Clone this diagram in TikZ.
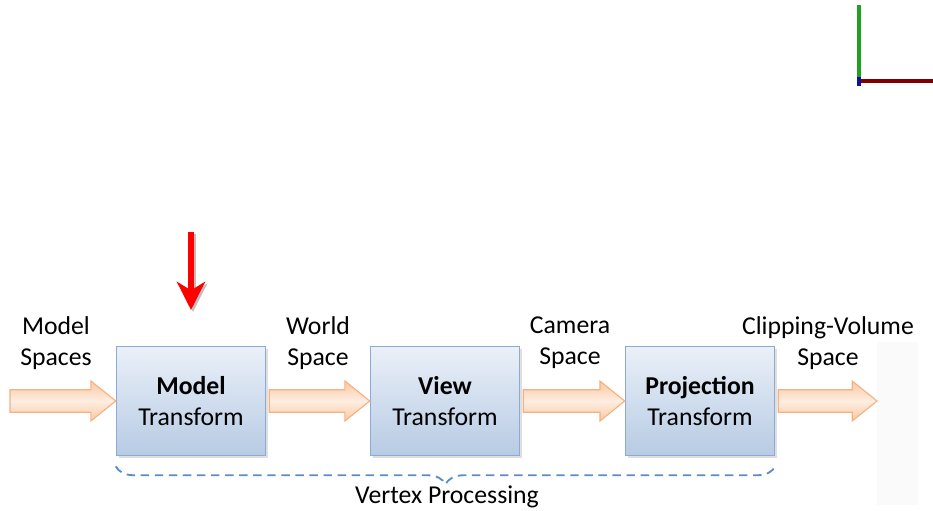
\documentclass[tikz,border=0pt]{standalone}
\usepackage{fontspec}
\setmainfont{Carlito}
\usetikzlibrary{calc,shadows,arrows.meta,decorations.pathreplacing}

% colours of the pipeline
\definecolor{boxTop}{HTML}{EAF0F8}
\definecolor{boxBottom}{HTML}{B7CBE4}
\definecolor{boxLine}{HTML}{8DAAD2}
\definecolor{flowMid}{HTML}{FEEEE2}
\definecolor{flowEdge}{HTML}{FAC8A0}
\definecolor{flowLine}{HTML}{F4B183}
\definecolor{braceLine}{HTML}{5B8CC8}
\definecolor{axisX}{HTML}{7F0000}
\definecolor{axisY}{HTML}{1FA01F}
\definecolor{axisZ}{HTML}{1010A0}

\tikzset{
  stage/.style={draw=boxLine, line width=1.2pt, top color=boxTop, bottom color=boxBottom,
    minimum width=3.72cm, minimum height=2.72cm, align=center,
    drop shadow={opacity=0.25, shadow xshift=1.5pt, shadow yshift=-1.5pt}},
  space/.style={align=center},
  flowline/.style={draw=flowLine, line width=0.8pt, line join=miter,
    top color=flowEdge, bottom color=flowEdge, middle color=flowMid},
}

% block arrow from one point to another (horizontal)
\def\shaftw{0.28cm}
\def\headw{0.5cm}
\def\headl{0.62cm}
\newcommand\flow[2]{%
  \path[flowline] let \p1=(#1), \p2=(#2) in
    (\x1,\y1+\shaftw) -- (\x2-\headl,\y1+\shaftw) -- (\x2-\headl,\y1+\headw) -- (\x2,\y1)
    -- (\x2-\headl,\y1-\headw) -- (\x2-\headl,\y1-\shaftw) -- (\x1,\y1-\shaftw) -- cycle;}

\begin{document}
\begin{tikzpicture}[x=0.025cm, y=-0.025cm, font=\fontsize{18.3}{22}\selectfont]
	\useasboundingbox (0,0) rectangle (933,511);
	
	% faint panel on the right
	\fill[black!2] (877,342) rectangle (918,505);
	
	% transform stages
	\node[stage] (model) at (191,401) {\textbf{Model}\\Transform};
	\node[stage] (view) at (445,401) {\textbf{View}\\Transform};
	\node[stage] (proj) at (700,401) {\textbf{Projection}\\Transform};
	
	\coordinate (in) at (10,401);
	\coordinate (out) at (877,401);
	
	% flow between the stages
	\flow{in}{model.west}
	\flow{$(model.east)+(3,0)$}{view.west}
	\flow{$(view.east)+(3,0)$}{proj.west}
	\flow{$(proj.east)+(3,0)$}{out}
	
	% space names
	\node[space] (sModel) at (56,343) {Model\\Spaces};
	\node[space] (sWorld) at (318,343) {World\\Space};
	\node[space] (sCamera) at (570,343) {Camera\\Space};
	\node[space] (sClip) at (828,343) {Clipping-Volume\\Space};
	
	% vertex processing brace
	\draw[braceLine, line width=1.3pt, dash pattern=on 6pt off 4pt,
		decorate, decoration={brace, mirror, amplitude=0.45cm}]
		($(model.south west)+(0,10)$) -- ($(proj.south east)+(0,10)$) coordinate[midway] (bmid);
	\node (vertex) at (447,497) {Vertex Processing};
	
	% red marker over the model stage
	\coordinate (mTop) at (191,232);
	\coordinate (mTip) at (191,310);
	\draw[black!25, line width=4pt, -{Stealth[length=20pt, width=20pt, inset=6pt]}]
		($(mTop)+(2,2)$) -- ($(mTip)+(2,2)$);
	\draw[red, line width=4pt, -{Stealth[length=20pt, width=20pt, inset=6pt]}] (mTop) -- (mTip);
	
	% axes in the corner
	\coordinate (o) at (859,81);
	\draw[axisY, line width=3pt] (o) -- (859,5);
	\draw[axisX, line width=3pt] (o) -- (933,81);
	\draw[axisZ, line width=3pt] (859,77) -- (859,86);
\end{tikzpicture}
\end{document}
